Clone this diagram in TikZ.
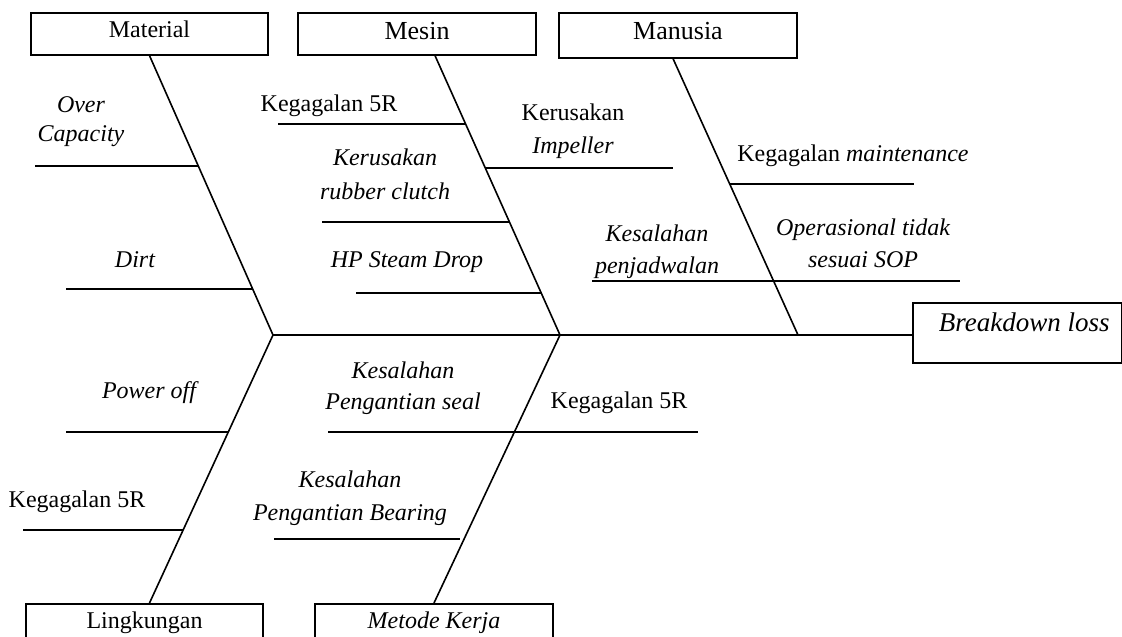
\documentclass[tikz,border=0pt]{standalone}
\usepackage{fontspec}
\setmainfont{Liberation Serif}
\usetikzlibrary{positioning}

\begin{document}
\begin{tikzpicture}[x=0.5pt,y=-0.5pt,
              head/.style={draw, line width=0.8pt, inner sep=3pt, text height=9.5pt, text depth=5.5pt, font=\fontsize{12}{16}\selectfont},
              bighead/.style={head, text height=10.5pt, font=\fontsize{13}{16}\selectfont},
              bone/.style={line width=0.8pt, black},
              rib/.style={line width=0.8pt, black},
              cause/.style={inner sep=0pt, align=center, font=\fontsize{12}{16}\selectfont\itshape},
              causeup/.style={cause, font=\fontsize{12}{16}\selectfont\upshape},
             ]

\useasboundingbox (0,0) rectangle (1122,636);
\clip (0,0) rectangle (1122,636);

\node[head, anchor=north, minimum width=118.5pt] (material) at (149.5,12) {Material};
\node[bighead, anchor=north, minimum width=119pt, text depth=4.5pt] (mesin) at (417,12) {Mesin};
\node[bighead, anchor=north, minimum width=119pt, text depth=6pt] (manusia) at (678,12) {Manusia};
\node[head, anchor=north, minimum width=118.5pt, text depth=20pt] (lingkungan) at (144.5,603) {Lingkungan};
\node[head, anchor=north, minimum width=119pt, text depth=20pt, font=\fontsize{12}{16}\selectfont\itshape] (metode) at (434,603) {Metode Kerja};
\node[head, anchor=west, minimum width=104.5pt, text height=11pt, text depth=13pt, font=\fontsize{13.5}{16}\selectfont\itshape] (effect) at (912,333) {\hspace*{7pt}Breakdown loss};

\coordinate (j1) at (273,335);
\coordinate (j2) at (560,335);
\coordinate (j3) at (798,335);

\draw[bone] (j1) -- (j1 -| effect.west);
\draw[bone] (material.south) -- (j1);
\draw[bone] ([xshift=9pt]mesin.south) -- (j2);
\draw[bone] ([xshift=-2.5pt]manusia.south) -- (j3);
\draw[bone] ([xshift=2.5pt]lingkungan.north) -- (j1);
\draw[bone] (metode.north) -- (j2);

\draw[rib] (35,166) -- (198,166);
\draw[rib] (66,289) -- (252,289);
\draw[rib] (278,124) -- (465,124);
\draw[rib] (322,222) -- (509,222);
\draw[rib] (356,293) -- (541,293);
\draw[rib] (486,168) -- (673,168);
\draw[rib] (592,281) -- (774,281);
\draw[rib] (774,281) -- (960,281);
\draw[rib] (730,184) -- (914,184);
\draw[rib] (66,432) -- (228,432);
\draw[rib] (23,530) -- (183,530);
\draw[rib] (328,432) -- (515,432);
\draw[rib] (515,432) -- (698,432);
\draw[rib] (274,539) -- (460,539);

\node[cause] (overcap) at (81,122) {Over\\[-1.5pt]Capacity};
\node[cause] (dirt) at (135,260) {Dirt};
\node[causeup] (fiveRa) at (329,106) {Kegagalan 5R};
\node[cause] (rubber) at (385,174) {Kerusakan\\[1pt]rubber clutch};
\node[cause] (steam) at (407,262) {HP Steam Drop};
\node[causeup] (impeller) at (573,131) {Kerusakan\\[0.5pt]\textit{Impeller}};
\node[cause] (jadwal) at (657,252) {Kesalahan\\penjadwalan};
\node[causeup] (maint) at (853,156) {Kegagalan \textit{maintenance}};
\node[cause] (sop) at (863,243) {Operasional tidak\\sesuai SOP};
\node[cause] (power) at (149,393) {Power off};
\node[causeup] (fiveRb) at (77,502) {Kegagalan 5R};
\node[cause] (seal) at (403,388) {Kesalahan\\[-0.5pt]Pengantian seal};
\node[causeup] (fiveRc) at (619,403) {Kegagalan 5R};
\node[cause] (bearing) at (350,498) {Kesalahan\\[0.5pt]Pengantian Bearing};
\end{tikzpicture}
\end{document}
